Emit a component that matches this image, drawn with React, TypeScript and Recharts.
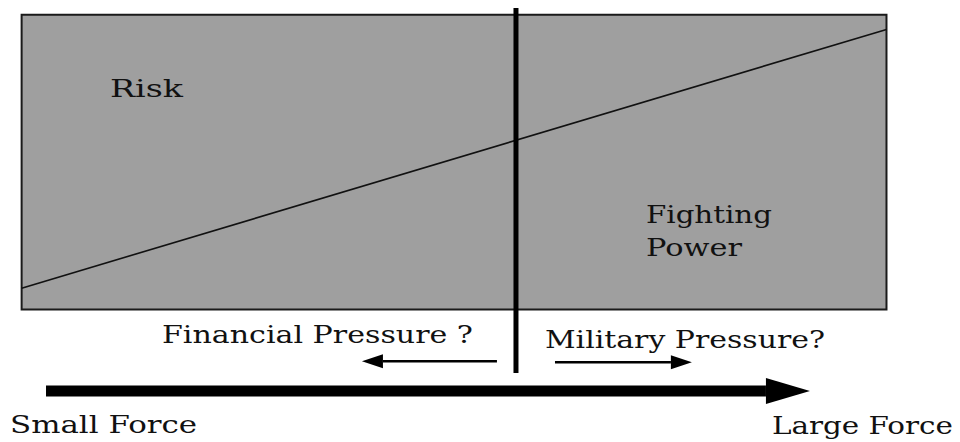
import React from 'react';
import { ComposedChart, XAxis, YAxis, Line, ReferenceArea, ReferenceLine, ReferenceDot } from 'recharts';

// Horizontal axis: force (0 = left edge of box, 100 = right edge)
const forceDomain = [-2.5, 108.5];
// Vertical axis: level (0 = bottom of box, 100 = top of box)
const levelDomain = [-45, 105];

// Risk line rising across the box
const riskSeries = [
  { force: 0, risk: 7.2 },
  { force: 100, risk: 95 },
];

// Grey region (Fighting Power box)
const boxForce = [0, 100];
const boxLevel = [0, 100];

// Vertical divider
const dividerForce = 57.16;
const dividerLevel = [-21.6, 102.3];

// Pressure arrows (from -> to, at a level)
const pressureArrows = [
  { name: 'financial', from: 54.96, to: 39.35, level: -17.6 },
  { name: 'military', from: 61.67, to: 77.5, level: -17.9 },
];

// Main force arrow
const forceArrow = { from: 2.82, to: 91.15, level: -27.7 };

// Text labels
const labelTexts = ['Risk', 'Fighting', 'Power', 'Financial Pressure ?', 'Military Pressure?', 'Small Force', 'Large Force'];
const labelForce = [10.22, 72.19, 72.19, 16.23, 60.51, -1.34, 86.76];
const labelLevel = [72.08, 29.32, 18.12, -11.4, -13.1, -41.94, -42.28];
const labelWidths = [73, 126, 96, 311, 280, 187, 181];

const makeArrow = (shaft: number, headLen: number, headHalf: number) => (p: any) => {
  const { x1, y1, x2, y2 } = p;
  const dir = x2 >= x1 ? 1 : -1;
  const hx = x2 - dir * headLen;
  return (
    <g>
      <line x1={x1} y1={y1} x2={hx} y2={y2} stroke="#000" strokeWidth={shaft} />
      <polygon points={`${x2},${y2} ${hx},${y2 - headHalf} ${hx},${y2 + headHalf}`} fill="#000" />
    </g>
  );
};

const makeText = (text: string, width: number) => (p: any) => (
  <text
    x={p.cx}
    y={p.cy}
    fontFamily="DejaVu Serif"
    fontSize={24}
    fill="#111"
    textLength={width}
    lengthAdjust="spacingAndGlyphs"
  >
    {text}
  </text>
);

export default function App() {
  return (
    <div style={{ position: 'absolute', left: 0, top: 0, width: 960, height: 442, background: '#fff' }}>
      <ComposedChart width={960} height={442} data={riskSeries} margin={{ top: 0, right: 0, bottom: 0, left: 0 }}>
        <XAxis type="number" dataKey="force" domain={forceDomain} hide allowDataOverflow />
        <YAxis type="number" domain={levelDomain} hide allowDataOverflow />
        <ReferenceArea
          x1={boxForce[0]}
          x2={boxForce[1]}
          y1={boxLevel[0]}
          y2={boxLevel[1]}
          fill="#9f9f9f"
          fillOpacity={1}
          stroke="#1a1a1a"
          strokeWidth={2}
        />
        <Line
          type="linear"
          dataKey="risk"
          stroke="#111"
          strokeWidth={1.6}
          dot={false}
          activeDot={false}
          isAnimationActive={false}
        />
        <ReferenceLine
          segment={[
            { x: dividerForce, y: dividerLevel[0] },
            { x: dividerForce, y: dividerLevel[1] },
          ]}
          stroke="#000"
          strokeWidth={5}
        />
        {pressureArrows.map((a) => (
          <ReferenceLine
            key={a.name}
            segment={[
              { x: a.from, y: a.level },
              { x: a.to, y: a.level },
            ]}
            shape={makeArrow(2.5, 21, 7)}
          />
        ))}
        <ReferenceLine
          segment={[
            { x: forceArrow.from, y: forceArrow.level },
            { x: forceArrow.to, y: forceArrow.level },
          ]}
          shape={makeArrow(11, 44, 13)}
        />
        {labelTexts.map((t, i) => (
          <ReferenceDot key={t} x={labelForce[i]} y={labelLevel[i]} r={0} shape={makeText(t, labelWidths[i])} />
        ))}
      </ComposedChart>
    </div>
  );
}
